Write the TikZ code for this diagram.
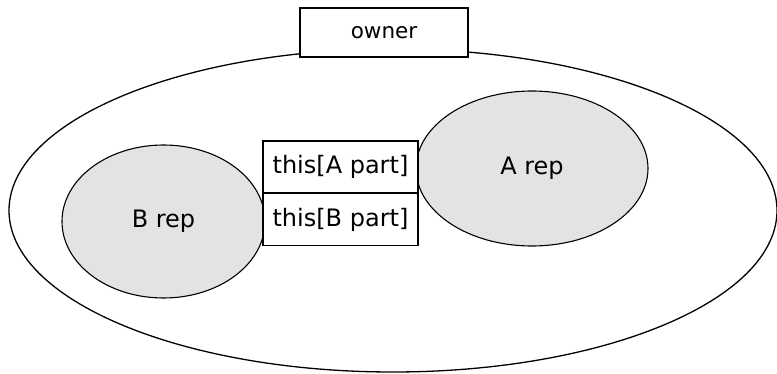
\documentclass[tikz,border=0pt]{standalone}
\usepackage{fontspec}
\setmainfont{DejaVu Sans}
\usetikzlibrary{shapes.geometric}
\pgfdeclarelayer{edgelayer}
\pgfdeclarelayer{nodelayer}
\pgfsetlayers{edgelayer,main,nodelayer}
\tikzstyle{label}=[font=\fontsize{24}{29}\selectfont]
\tikzstyle{outer}=[ellipse,draw=black,line width=1.3pt,fill=white,inner sep=0pt,minimum width=768,minimum height=323]
\tikzstyle{rep}=[ellipse,draw=black,line width=1.1pt,fill=black!11,inner sep=0pt,style=label]
\tikzstyle{part}=[rectangle,draw=black,line width=1.3pt,fill=white,minimum width=155,minimum height=52,inner sep=0pt,style=label]
\tikzstyle{ownerbox}=[rectangle,draw=black,line width=1.3pt,fill=white,minimum width=168,minimum height=49,inner sep=0pt,font=\fontsize{21.5}{26}\selectfont]

\begin{document}
\begin{tikzpicture}[x=1pt,y=-1pt]
	\useasboundingbox (0,0) rectangle (777,374);
	\begin{pgfonlayer}{edgelayer}
		\node [style=outer] (0) at (393, 210.5) {};
	\end{pgfonlayer}
	\node [style=rep, minimum width=232, minimum height=155] (1) at (532, 168.5) {A rep};
	\node [style=rep, minimum width=203, minimum height=153] (2) at (163.5, 221.5) {B rep};
	\begin{pgfonlayer}{nodelayer}
		\node [style=part] (3) at (340.5, 167) {this[A part]};
		\node [style=part] (4) at (340.5, 219.5) {this[B part]};
		\node [style=ownerbox] (5) at (384, 32.5) {owner};
	\end{pgfonlayer}
\end{tikzpicture}
\end{document}
